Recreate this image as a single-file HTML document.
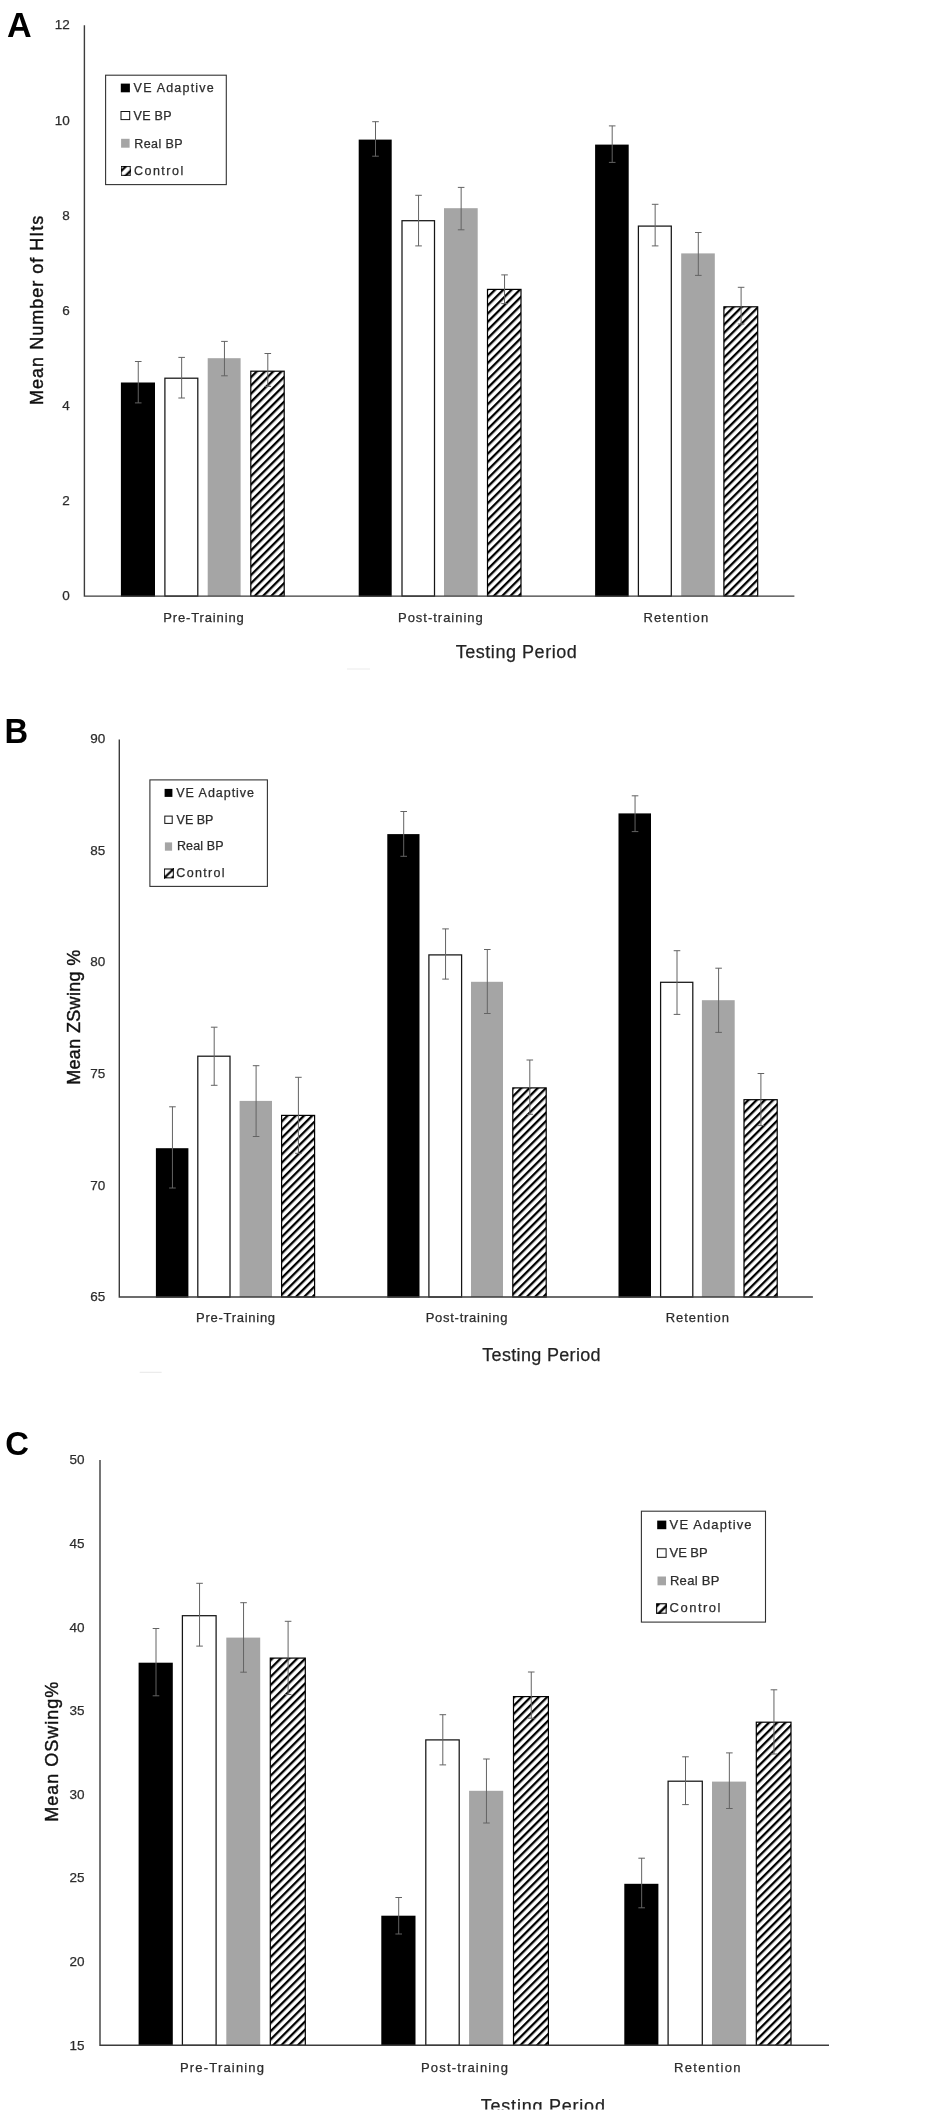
<!DOCTYPE html>
<html><head><meta charset="utf-8"><title>Figure</title>
<style>html,body{margin:0;padding:0;background:#fff}svg{display:block;will-change:transform}text{font-family:"Liberation Sans", sans-serif;fill:#2c2c2c;stroke:#2c2c2c;stroke-width:0.25px}</style>
</head><body>
<svg width="928" height="2115" viewBox="0 0 928 2115">
<defs>
<pattern id="hatch" width="5.83" height="5.83" patternUnits="userSpaceOnUse" patternTransform="rotate(-45)"><rect x="0" y="0" width="5.83" height="5.83" fill="#fff"/><rect x="0" y="0" width="5.83" height="2.3" fill="#000"/></pattern>
<clipPath id="clipC"><rect x="0" y="2080" width="928" height="29.5"/></clipPath>
</defs>
<g id="panelA">
<text transform="translate(6.9 37) scale(0.97 1)" font-size="35.2" font-weight="bold" style="fill:#000;stroke:none">A</text>
<rect x="120.9" y="382.5" width="34.1" height="214.2" fill="#000"/>
<rect x="164.9" y="378.2" width="32.9" height="217.9" fill="#fff" stroke="#151515" stroke-width="1.25"/>
<rect x="207.7" y="358.2" width="32.9" height="237.9" fill="#a5a5a5"/>
<rect x="250.8" y="371.2" width="33.4" height="224.9" fill="url(#hatch)" stroke="#000" stroke-width="1.2"/>
<rect x="358.7" y="139.6" width="33" height="457.1" fill="#000"/>
<rect x="402" y="220.7" width="32.5" height="375.4" fill="#fff" stroke="#151515" stroke-width="1.25"/>
<rect x="444" y="208.2" width="33.7" height="387.9" fill="#a5a5a5"/>
<rect x="487.5" y="289.4" width="33.5" height="306.7" fill="url(#hatch)" stroke="#000" stroke-width="1.2"/>
<rect x="595.1" y="144.6" width="33.6" height="452.1" fill="#000"/>
<rect x="638.4" y="226.1" width="32.9" height="370" fill="#fff" stroke="#151515" stroke-width="1.25"/>
<rect x="681.2" y="253.4" width="33.6" height="342.7" fill="#a5a5a5"/>
<rect x="723.9" y="306.8" width="33.8" height="289.3" fill="url(#hatch)" stroke="#000" stroke-width="1.2"/>
<path d="M84.4 25.3 V596.1 H794.4" fill="none" stroke="#3c3c3c" stroke-width="1.4"/>
<path d="M138.25 361.5 V402.9 M134.95 361.5 h6.6 M134.95 402.9 h6.6" fill="none" stroke="#636363" stroke-width="1"/>
<path d="M181.65 357.4 V398 M178.35 357.4 h6.6 M178.35 398 h6.6" fill="none" stroke="#636363" stroke-width="1"/>
<path d="M224.45 341.4 V375.8 M221.15 341.4 h6.6 M221.15 375.8 h6.6" fill="none" stroke="#636363" stroke-width="1"/>
<path d="M267.8 353.5 V386.4 M264.5 353.5 h6.6 M264.5 386.4 h6.6" fill="none" stroke="#636363" stroke-width="1"/>
<path d="M375.5 121.7 V156.2 M372.2 121.7 h6.6 M372.2 156.2 h6.6" fill="none" stroke="#636363" stroke-width="1"/>
<path d="M418.55 195.3 V245.9 M415.25 195.3 h6.6 M415.25 245.9 h6.6" fill="none" stroke="#636363" stroke-width="1"/>
<path d="M461.15 187.4 V229.8 M457.85 187.4 h6.6 M457.85 229.8 h6.6" fill="none" stroke="#636363" stroke-width="1"/>
<path d="M504.55 274.9 V303.6 M501.25 274.9 h6.6 M501.25 303.6 h6.6" fill="none" stroke="#636363" stroke-width="1"/>
<path d="M612.2 125.9 V162.4 M608.9 125.9 h6.6 M608.9 162.4 h6.6" fill="none" stroke="#636363" stroke-width="1"/>
<path d="M655.15 204.3 V245.9 M651.85 204.3 h6.6 M651.85 245.9 h6.6" fill="none" stroke="#636363" stroke-width="1"/>
<path d="M698.3 232.5 V275.4 M695 232.5 h6.6 M695 275.4 h6.6" fill="none" stroke="#636363" stroke-width="1"/>
<path d="M741.1 287.3 V324 M737.8 287.3 h6.6 M737.8 324 h6.6" fill="none" stroke="#636363" stroke-width="1"/>
<text x="69.8" y="600.4" font-size="13.5" text-anchor="end">0</text>
<text x="69.8" y="505.24" font-size="13.5" text-anchor="end">2</text>
<text x="69.8" y="410.08" font-size="13.5" text-anchor="end">4</text>
<text x="69.8" y="314.92" font-size="13.5" text-anchor="end">6</text>
<text x="69.8" y="219.76" font-size="13.5" text-anchor="end">8</text>
<text x="69.8" y="124.6" font-size="13.5" text-anchor="end">10</text>
<text x="69.8" y="29.44" font-size="13.5" text-anchor="end">12</text>
<rect x="105.6" y="75.2" width="120.7" height="109.4" fill="#fff" stroke="#333" stroke-width="1.1"/>
<rect x="120.8" y="83.6" width="9.1" height="8.7" fill="#000"/>
<rect x="121" y="111.5" width="8.7" height="8.1" fill="#fff" stroke="#111" stroke-width="1"/>
<rect x="121.1" y="138.8" width="8.5" height="8.9" fill="#a5a5a5"/>
<svg x="120.6" y="165.8" width="10.4" height="10.2" viewBox="0 0 10 10" preserveAspectRatio="none"><rect width="10" height="10" fill="#fff"/><path d="M2.2 12.2 L12.2 2.2 M-2.2 7.8 L7.8 -2.2" stroke="#000" stroke-width="2.2"/><rect x="0.5" y="0.5" width="9" height="9" fill="none" stroke="#000" stroke-width="1.1"/></svg>
<text x="133.6" y="92.3" font-size="12.5" textLength="80.1" lengthAdjust="spacing">VE Adaptive</text>
<text x="133.6" y="120.1" font-size="12.5" textLength="37.9" lengthAdjust="spacing">VE BP</text>
<text x="134.3" y="147.5" font-size="12.5" textLength="48.2" lengthAdjust="spacing">Real BP</text>
<text x="133.9" y="175.1" font-size="12.5" textLength="49.4" lengthAdjust="spacing">Control</text>
<text x="163.2" y="622.2" font-size="13" textLength="80.6" lengthAdjust="spacing">Pre-Training</text>
<text x="398" y="622.2" font-size="13" textLength="84.7" lengthAdjust="spacing">Post-training</text>
<text x="643.5" y="622.2" font-size="13" textLength="64.7" lengthAdjust="spacing">Retention</text>
<g><text x="455.7" y="658.2" font-size="18" textLength="121.1" lengthAdjust="spacing" style="fill:#222">Testing Period</text></g>
<text transform="translate(43.2 404.9) rotate(-90)" x="0" y="0" font-size="18" textLength="189.2" lengthAdjust="spacing" style="fill:#111;stroke:#111;stroke-width:0.4px">Mean Number of HIts</text>
</g>
<g id="panelB">
<text transform="translate(4.6 743) scale(0.93 1)" font-size="35.2" font-weight="bold" style="fill:#000;stroke:none">B</text>
<rect x="155.9" y="1148.2" width="32.5" height="149.4" fill="#000"/>
<rect x="197.8" y="1056.2" width="32.2" height="240.8" fill="#fff" stroke="#151515" stroke-width="1.25"/>
<rect x="239.6" y="1100.9" width="32.4" height="196.1" fill="#a5a5a5"/>
<rect x="281.6" y="1115.4" width="33" height="181.6" fill="url(#hatch)" stroke="#000" stroke-width="1.2"/>
<rect x="387.3" y="834.1" width="32.2" height="463.5" fill="#000"/>
<rect x="428.9" y="954.9" width="32.7" height="342.1" fill="#fff" stroke="#151515" stroke-width="1.25"/>
<rect x="471" y="981.8" width="32" height="315.2" fill="#a5a5a5"/>
<rect x="512.8" y="1087.9" width="33.4" height="209.1" fill="url(#hatch)" stroke="#000" stroke-width="1.2"/>
<rect x="618.5" y="813.4" width="32.5" height="484.2" fill="#000"/>
<rect x="660.6" y="982.3" width="32.2" height="314.7" fill="#fff" stroke="#151515" stroke-width="1.25"/>
<rect x="701.9" y="1000.2" width="32.8" height="296.8" fill="#a5a5a5"/>
<rect x="744" y="1099.7" width="33.2" height="197.3" fill="url(#hatch)" stroke="#000" stroke-width="1.2"/>
<path d="M119.3 739.4 V1297 H812.9" fill="none" stroke="#3c3c3c" stroke-width="1.4"/>
<path d="M172.45 1106.8 V1188 M169.15 1106.8 h6.6 M169.15 1188 h6.6" fill="none" stroke="#636363" stroke-width="1"/>
<path d="M214.2 1027.2 V1085.3 M210.9 1027.2 h6.6 M210.9 1085.3 h6.6" fill="none" stroke="#636363" stroke-width="1"/>
<path d="M256.1 1065.7 V1136.5 M252.8 1065.7 h6.6 M252.8 1136.5 h6.6" fill="none" stroke="#636363" stroke-width="1"/>
<path d="M298.4 1077.3 V1153.3 M295.1 1077.3 h6.6 M295.1 1153.3 h6.6" fill="none" stroke="#636363" stroke-width="1"/>
<path d="M403.7 811.5 V856.3 M400.4 811.5 h6.6 M400.4 856.3 h6.6" fill="none" stroke="#636363" stroke-width="1"/>
<path d="M445.55 928.9 V979.1 M442.25 928.9 h6.6 M442.25 979.1 h6.6" fill="none" stroke="#636363" stroke-width="1"/>
<path d="M487.3 949.5 V1013.5 M484 949.5 h6.6 M484 1013.5 h6.6" fill="none" stroke="#636363" stroke-width="1"/>
<path d="M529.8 1060 V1114.3 M526.5 1060 h6.6 M526.5 1114.3 h6.6" fill="none" stroke="#636363" stroke-width="1"/>
<path d="M635.05 795.8 V831.6 M631.75 795.8 h6.6 M631.75 831.6 h6.6" fill="none" stroke="#636363" stroke-width="1"/>
<path d="M677 950.7 V1014.4 M673.7 950.7 h6.6 M673.7 1014.4 h6.6" fill="none" stroke="#636363" stroke-width="1"/>
<path d="M718.6 968.2 V1032.4 M715.3 968.2 h6.6 M715.3 1032.4 h6.6" fill="none" stroke="#636363" stroke-width="1"/>
<path d="M760.9 1073.5 V1125.6 M757.6 1073.5 h6.6 M757.6 1125.6 h6.6" fill="none" stroke="#636363" stroke-width="1"/>
<text x="105.2" y="1301.3" font-size="13.5" text-anchor="end">65</text>
<text x="105.2" y="1189.65" font-size="13.5" text-anchor="end">70</text>
<text x="105.2" y="1078" font-size="13.5" text-anchor="end">75</text>
<text x="105.2" y="966.35" font-size="13.5" text-anchor="end">80</text>
<text x="105.2" y="854.7" font-size="13.5" text-anchor="end">85</text>
<text x="105.2" y="743.05" font-size="13.5" text-anchor="end">90</text>
<rect x="149.9" y="779.9" width="117.5" height="106.5" fill="#fff" stroke="#333" stroke-width="1.1"/>
<rect x="164.6" y="788.9" width="7.8" height="8" fill="#000"/>
<rect x="164.8" y="816.1" width="7.4" height="7.3" fill="#fff" stroke="#111" stroke-width="1"/>
<rect x="164.9" y="842.4" width="7.2" height="8.3" fill="#a5a5a5"/>
<svg x="163.8" y="868.5" width="10.1" height="9.8" viewBox="0 0 10 10" preserveAspectRatio="none"><rect width="10" height="10" fill="#fff"/><path d="M-1 11 L11 -1" stroke="#000" stroke-width="2.1"/><path d="M10 6 V10 H6 Z M0 7.8 V10 H2.2 Z" fill="#000"/><rect x="0.5" y="0.5" width="9" height="9" fill="none" stroke="#000" stroke-width="1.1"/></svg>
<text x="176.2" y="796.9" font-size="12.5" textLength="77.8" lengthAdjust="spacing">VE Adaptive</text>
<text x="176.6" y="823.7" font-size="12.5" textLength="36.7" lengthAdjust="spacing">VE BP</text>
<text x="176.9" y="850.3" font-size="12.5" textLength="46.7" lengthAdjust="spacing">Real BP</text>
<text x="176.3" y="877.4" font-size="12.5" textLength="48.2" lengthAdjust="spacing">Control</text>
<text x="196" y="1322" font-size="13" textLength="79.1" lengthAdjust="spacing">Pre-Training</text>
<text x="425.7" y="1322" font-size="13" textLength="81.7" lengthAdjust="spacing">Post-training</text>
<text x="665.8" y="1322" font-size="13" textLength="63.1" lengthAdjust="spacing">Retention</text>
<g><text x="482.3" y="1361.1" font-size="18" textLength="118.3" lengthAdjust="spacing" style="fill:#222">Testing Period</text></g>
<text transform="translate(80 1084.8) rotate(-90)" x="0" y="0" font-size="18" textLength="135.1" lengthAdjust="spacing" style="fill:#111;stroke:#111;stroke-width:0.4px">Mean ZSwing %</text>
</g>
<g id="panelC">
<text transform="translate(5.3 1454.6) scale(0.98 1)" font-size="33.5" font-weight="bold" style="fill:#000;stroke:none">C</text>
<rect x="138.6" y="1662.7" width="34.2" height="383.2" fill="#000"/>
<rect x="182.4" y="1615.7" width="33.7" height="429.6" fill="#fff" stroke="#151515" stroke-width="1.25"/>
<rect x="226.3" y="1637.6" width="33.9" height="407.7" fill="#a5a5a5"/>
<rect x="270.3" y="1658.1" width="35" height="387.2" fill="url(#hatch)" stroke="#000" stroke-width="1.2"/>
<rect x="381.3" y="1915.7" width="34.2" height="130.2" fill="#000"/>
<rect x="425.8" y="1739.9" width="33.4" height="305.4" fill="#fff" stroke="#151515" stroke-width="1.25"/>
<rect x="469.1" y="1790.8" width="34.1" height="254.5" fill="#a5a5a5"/>
<rect x="513.5" y="1696.6" width="34.9" height="348.7" fill="url(#hatch)" stroke="#000" stroke-width="1.2"/>
<rect x="624.3" y="1883.8" width="34.1" height="162.1" fill="#000"/>
<rect x="668.1" y="1781.2" width="34.2" height="264.1" fill="#fff" stroke="#151515" stroke-width="1.25"/>
<rect x="712" y="1781.6" width="34.1" height="263.7" fill="#a5a5a5"/>
<rect x="756.3" y="1722.2" width="34.7" height="323.1" fill="url(#hatch)" stroke="#000" stroke-width="1.2"/>
<path d="M100 1460 V2045.3 H829" fill="none" stroke="#3c3c3c" stroke-width="1.4"/>
<path d="M156 1628.5 V1695.8 M152.7 1628.5 h6.6 M152.7 1695.8 h6.6" fill="none" stroke="#636363" stroke-width="1"/>
<path d="M199.55 1583.3 V1646.1 M196.25 1583.3 h6.6 M196.25 1646.1 h6.6" fill="none" stroke="#636363" stroke-width="1"/>
<path d="M243.55 1602.7 V1672.2 M240.25 1602.7 h6.6 M240.25 1672.2 h6.6" fill="none" stroke="#636363" stroke-width="1"/>
<path d="M288.1 1621.3 V1694.5 M284.8 1621.3 h6.6 M284.8 1694.5 h6.6" fill="none" stroke="#636363" stroke-width="1"/>
<path d="M398.7 1897.5 V1934 M395.4 1897.5 h6.6 M395.4 1934 h6.6" fill="none" stroke="#636363" stroke-width="1"/>
<path d="M442.8 1714.7 V1764.9 M439.5 1714.7 h6.6 M439.5 1764.9 h6.6" fill="none" stroke="#636363" stroke-width="1"/>
<path d="M486.45 1759 V1823 M483.15 1759 h6.6 M483.15 1823 h6.6" fill="none" stroke="#636363" stroke-width="1"/>
<path d="M531.25 1672 V1718.2 M527.95 1672 h6.6 M527.95 1718.2 h6.6" fill="none" stroke="#636363" stroke-width="1"/>
<path d="M641.65 1858.2 V1907.8 M638.35 1858.2 h6.6 M638.35 1907.8 h6.6" fill="none" stroke="#636363" stroke-width="1"/>
<path d="M685.5 1756.8 V1804.6 M682.2 1756.8 h6.6 M682.2 1804.6 h6.6" fill="none" stroke="#636363" stroke-width="1"/>
<path d="M729.35 1752.9 V1808.5 M726.05 1752.9 h6.6 M726.05 1808.5 h6.6" fill="none" stroke="#636363" stroke-width="1"/>
<path d="M773.95 1689.8 V1754 M770.65 1689.8 h6.6 M770.65 1754 h6.6" fill="none" stroke="#636363" stroke-width="1"/>
<text x="84.6" y="2049.6" font-size="13.5" text-anchor="end">15</text>
<text x="84.6" y="1966" font-size="13.5" text-anchor="end">20</text>
<text x="84.6" y="1882.4" font-size="13.5" text-anchor="end">25</text>
<text x="84.6" y="1798.8" font-size="13.5" text-anchor="end">30</text>
<text x="84.6" y="1715.2" font-size="13.5" text-anchor="end">35</text>
<text x="84.6" y="1631.6" font-size="13.5" text-anchor="end">40</text>
<text x="84.6" y="1548" font-size="13.5" text-anchor="end">45</text>
<text x="84.6" y="1464.4" font-size="13.5" text-anchor="end">50</text>
<rect x="641.4" y="1511.2" width="124.1" height="110.9" fill="#fff" stroke="#333" stroke-width="1.1"/>
<rect x="657.2" y="1520.6" width="9.1" height="8.6" fill="#000"/>
<rect x="657.4" y="1548.8" width="8.7" height="8.5" fill="#fff" stroke="#111" stroke-width="1"/>
<rect x="657.5" y="1576.5" width="8.5" height="8.8" fill="#a5a5a5"/>
<svg x="656.1" y="1603.2" width="10.7" height="10.7" viewBox="0 0 10 10" preserveAspectRatio="none"><rect width="10" height="10" fill="#fff"/><path d="M-1 13 L13 -1" stroke="#000" stroke-width="2.3"/><path d="M0 0 H4.8 L0 4.8 Z" fill="#000"/><rect x="0.5" y="0.5" width="9" height="9" fill="none" stroke="#000" stroke-width="1.1"/></svg>
<text x="669.6" y="1529.2" font-size="13" textLength="82" lengthAdjust="spacing">VE Adaptive</text>
<text x="669.6" y="1556.9" font-size="13" textLength="38" lengthAdjust="spacing">VE BP</text>
<text x="669.9" y="1584.7" font-size="13" textLength="49.6" lengthAdjust="spacing">Real BP</text>
<text x="669.6" y="1612.4" font-size="13" textLength="50.8" lengthAdjust="spacing">Control</text>
<text x="180" y="2072" font-size="13" textLength="84" lengthAdjust="spacing">Pre-Training</text>
<text x="421" y="2072" font-size="13" textLength="87" lengthAdjust="spacing">Post-training</text>
<text x="674" y="2072" font-size="13" textLength="66.5" lengthAdjust="spacing">Retention</text>
<g clip-path="url(#clipC)"><text x="480.8" y="2112.3" font-size="18" textLength="124.1" lengthAdjust="spacing" style="fill:#222">Testing Period</text></g>
<text transform="translate(58.1 1821.8) rotate(-90)" x="0" y="0" font-size="18" textLength="140.1" lengthAdjust="spacing" style="fill:#111;stroke:#111;stroke-width:0.4px">Mean OSwing%</text>
</g>
<path d="M347 669 H370 M139.7 1372.3 H161.6" stroke="#ececec" stroke-width="1.2" fill="none"/>
</svg></body></html>
